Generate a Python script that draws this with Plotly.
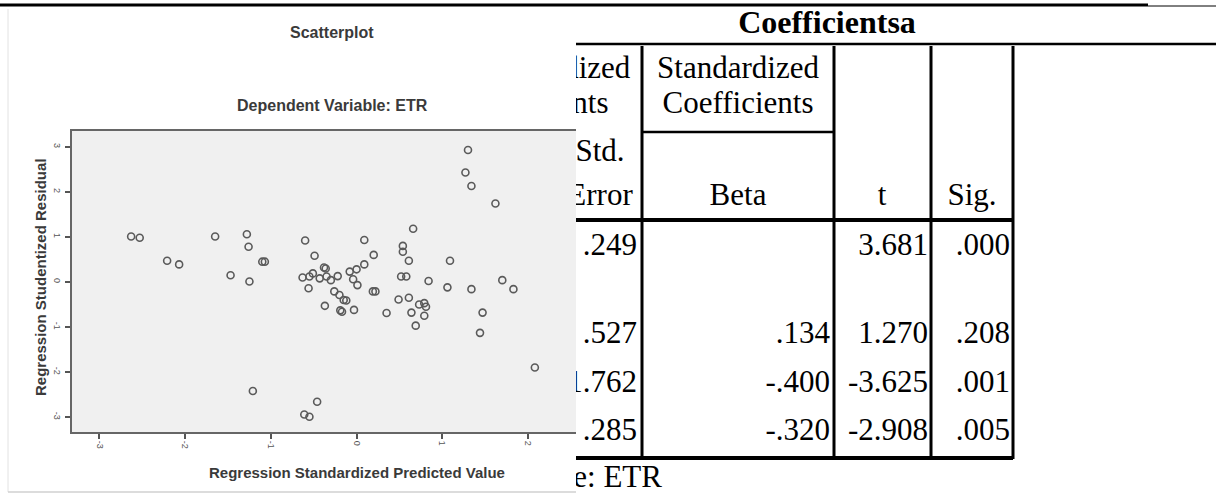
import plotly.graph_objects as go

W, H = 1216, 495

# ---------------- scatterplot data ----------------
pred_value = [-2.63, -2.53, -2.21, -2.07, -1.65, -1.47, -1.28, -1.26, -1.25, -1.21,
              -1.10, -1.07, -0.60, -0.49, -0.38, -0.36, -0.63, -0.55, -0.51, -0.56,
              -0.43, -0.35, -0.30, -0.22, -0.26, -0.20, -0.15, -0.12, -0.37, -0.19,
              -0.17, -0.03, -0.08, -0.04, 0.01, 0.00, 0.09, 0.09, 0.20, 0.19,
              0.22, 0.35, 0.54, 0.54, 0.61, 0.52, 0.58, 0.49, 0.61, 0.64,
              0.69, 0.73, 0.79, 0.81, 0.79, 0.84, 0.66, 1.09, 1.06, 1.34,
              1.70, 1.83, 1.47, 1.44, 2.08, -0.46, -0.61, -0.55, 1.30, 1.27,
              1.34, 1.62]
stud_resid = [1.01, 0.98, 0.47, 0.39, 1.01, 0.15, 1.06, 0.78, 0.01, -2.42,
              0.45, 0.45, 0.92, 0.58, 0.32, 0.30, 0.10, 0.12, 0.19, -0.14,
              0.08, 0.12, 0.04, 0.13, -0.21, -0.29, -0.40, -0.41, -0.53, -0.63,
              -0.66, -0.62, 0.23, 0.06, -0.07, 0.28, 0.39, 0.93, 0.60, -0.21,
              -0.21, -0.69, 0.80, 0.67, 0.47, 0.12, 0.12, -0.39, -0.35, -0.68,
              -0.97, -0.50, -0.47, -0.55, -0.75, 0.02, 1.18, 0.47, -0.12, -0.16,
              0.04, -0.16, -0.68, -1.13, -1.90, -2.66, -2.94, -2.99, 2.93, 2.43,
              2.13, 1.74]
x_ticks = [-3, -2, -1, 0, 1, 2]
y_ticks = [-3, -2, -1, 0, 1, 2, 3]

chart_title = "Scatterplot"
chart_subtitle = "Dependent Variable: ETR"
x_title = "Regression Standardized Predicted Value"
y_title = "Regression Studentized Residual"

# ---------------- table data ----------------
table_title = "Coefficientsa"
std_error = [0.249, 0.527, 1.762, 0.285]
beta = [None, 0.134, -0.400, -0.320]
t_values = [3.681, 1.270, -3.625, -2.908]
sig_values = [0.000, 0.208, 0.001, 0.005]
footnote = "Dependent Variable: ETR"


def spss(v):
    if v is None:
        return ""
    s = f"{abs(v):.3f}"
    if s.startswith("0"):
        s = s[1:]
    return ("-" if v < 0 else "") + s


def px(x):
    return x / W


def py(y):
    return 1 - y / H


fig = go.Figure()

# scatter points
fig.add_trace(go.Scatter(
    x=pred_value, y=stud_resid, mode="markers",
    marker=dict(symbol="circle-open", size=7, color="#5a5a5a",
                line=dict(width=1.6, color="#5a5a5a")),
    xaxis="x", yaxis="y", showlegend=False, hoverinfo="skip"))

# ---------------- table texts (pixel axis, clipped at left edge) ----------------
serif = "Liberation Serif, Times New Roman, serif"
BODY = 31

hdr_x = [533, 533, 738, 738, 600, 600, 738, 882, 972]
hdr_y = [70, 105, 70, 105, 153, 197, 197, 197, 197]
hdr_t = ["Unstandardized", "Coefficients", "Standardized", "Coefficients",
         "Std.", "Error", "Beta", "t", "Sig."]
fig.add_trace(go.Scatter(
    x=hdr_x, y=hdr_y, text=hdr_t, mode="text", textposition="middle center",
    textfont=dict(family=serif, size=BODY, color="#000"),
    xaxis="x2", yaxis="y2", cliponaxis=True, showlegend=False, hoverinfo="skip"))

fig.add_trace(go.Scatter(
    x=[827], y=[25], text=[table_title], mode="text", textposition="middle center",
    textfont=dict(family=serif, size=32, color="#000", weight="bold"),
    xaxis="x2", yaxis="y2", cliponaxis=True, showlegend=False, hoverinfo="skip"))

row_y = [247, 335, 384, 432]
col_right = [637, 830, 928, 1010]
num_x, num_y, num_t = [], [], []
for col, vals in zip(col_right, [std_error, beta, t_values, sig_values]):
    for yy, v in zip(row_y, vals):
        if v is None:
            continue
        num_x.append(col)
        num_y.append(yy)
        num_t.append(spss(v))
fig.add_trace(go.Scatter(
    x=num_x, y=num_y, text=num_t, mode="text", textposition="middle left",
    textfont=dict(family=serif, size=BODY, color="#000"),
    xaxis="x2", yaxis="y2", cliponaxis=True, showlegend=False, hoverinfo="skip"))

fig.add_trace(go.Scatter(
    x=[662], y=[479], text=[footnote], mode="text", textposition="middle left",
    textfont=dict(family=serif, size=BODY, color="#000"),
    xaxis="x2", yaxis="y2", cliponaxis=True, showlegend=False, hoverinfo="skip"))

# ---------------- shapes ----------------
shapes = []
# gray plot area of scatterplot
shapes.append(dict(type="rect", xref="x domain", yref="y domain", x0=0, x1=1, y0=0, y1=1,
                   fillcolor="#f0f0f0", line=dict(width=0), layer="below"))


def hline(x0, x1, y, w, c="#000"):
    shapes.append(dict(type="line", xref="paper", yref="paper",
                       x0=px(x0), x1=px(x1), y0=py(y), y1=py(y),
                       line=dict(color=c, width=w)))


def vline(x, y0, y1, w, c="#000"):
    shapes.append(dict(type="line", xref="paper", yref="paper",
                       x0=px(x), x1=px(x), y0=py(y0), y1=py(y1),
                       line=dict(color=c, width=w)))


hline(0, 1148, 5, 3)
hline(1148, 1216, 6, 1)
hline(576, 1216, 44, 2.5)
for vx in [642, 834, 931, 1013]:
    vline(vx, 46, 459, 3)
hline(642, 834, 132, 2.5)
hline(576, 1013, 220, 4)
hline(576, 1013, 458, 4)
# faint frame of the pasted chart image
vline(8, 9, 492, 1, "#e2e2e2")
hline(8, 576, 492, 1.5, "#d0d0d0")

sans = "Liberation Sans, Arial, sans-serif"
common = dict(xref="paper", yref="paper", showarrow=False, xanchor="center", yanchor="middle")
annotations = [
    dict(text=chart_title, x=px(332), y=py(33),
         font=dict(family=sans, size=16, color="#3a3a3a", weight="bold"), **common),
    dict(text=chart_subtitle, x=px(332), y=py(105),
         font=dict(family=sans, size=16, color="#3a3a3a", weight="bold"), **common),
    dict(text=x_title, x=px(357), y=py(472),
         font=dict(family=sans, size=15, color="#3a3a3a", weight="bold"), **common),
    dict(text=y_title, x=px(40), y=py(277), textangle=-90,
         font=dict(family=sans, size=15, color="#3a3a3a", weight="bold"), **common),
]

fig.update_layout(
    width=W, height=H,
    margin=dict(l=0, r=0, t=0, b=0),
    paper_bgcolor="white", plot_bgcolor="rgba(0,0,0,0)",
    showlegend=False,
    xaxis=dict(domain=[px(72), px(576)], range=[-3.32, 2.56],
               tickvals=x_ticks, ticktext=[str(v) for v in x_ticks],
               ticks="outside", ticklen=5, tickwidth=1.5, tickcolor="#555",
               showline=True, linecolor="#666", linewidth=2, mirror=True,
               showgrid=False, zeroline=False, tickangle=90,
               tickfont=dict(family=sans, size=9, color="#555"), anchor="y"),
    yaxis=dict(domain=[py(432), py(131)], range=[-3.33, 3.35],
               tickvals=y_ticks, ticktext=[str(v) for v in y_ticks],
               ticks="outside", ticklen=5, tickwidth=1.5, tickcolor="#555",
               showline=True, linecolor="#666", linewidth=2, mirror=False,
               showgrid=False, zeroline=False, tickangle=90,
               tickfont=dict(family=sans, size=9, color="#555"), anchor="x"),
    xaxis2=dict(domain=[px(576), 1], range=[576, 1216], visible=False, anchor="y2"),
    yaxis2=dict(domain=[0, 1], range=[495, 0], visible=False, anchor="x2"),
    shapes=shapes,
    annotations=annotations,
)

fig.write_html(
    "out.html",
    config={"displayModeBar": False},
    post_script="document.body.style.margin='0';document.body.style.padding='0';"
                "document.body.style.overflow='hidden';",
)
